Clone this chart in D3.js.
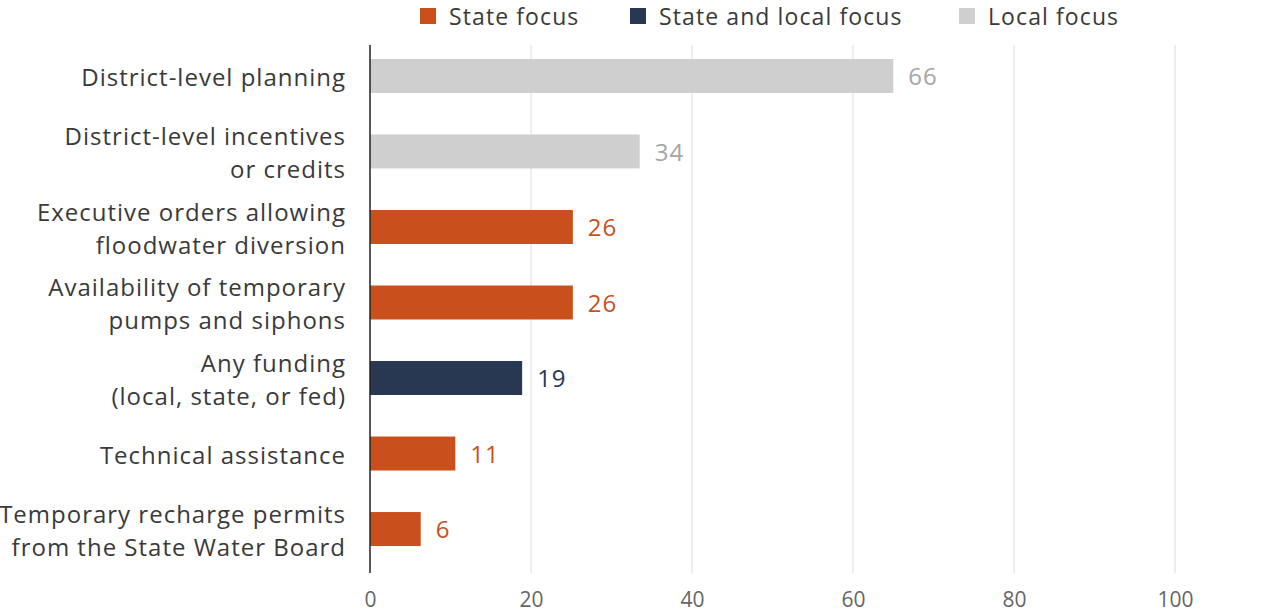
<!DOCTYPE html>
<html>
<head>
<meta charset="utf-8">
<script src="https://cdn.jsdelivr.net/npm/d3@7"></script>
<style>
  body { margin: 0; background: #fff; }
  svg { font-family: "Open Sans", Lato, sans-serif; }
</style>
</head>
<body>
<div id="chart"></div>
<script>
// data
const categories = [
  ["District-level planning"],
  ["District-level incentives", "or credits"],
  ["Executive orders allowing", "floodwater diversion"],
  ["Availability of temporary", "pumps and siphons"],
  ["Any funding", "(local, state, or fed)"],
  ["Technical assistance"],
  ["Temporary recharge permits", "from the State Water Board"]
];
const values = [65.0, 33.5, 25.2, 25.2, 18.9, 10.6, 6.3];
const valueLabels = ["66", "34", "26", "26", "19", "11", "6"];
const groups = ["Local", "Local", "State", "State", "Both", "State", "State"];
const legendKeys = ["State", "Both", "Local"];
const legendNames = ["State focus", "State and local focus", "Local focus"];
const xTicks = [0, 20, 40, 60, 80, 100];

const W = 1280, H = 616;
const margin = { top: 45, right: 105, bottom: 43, left: 370 };
const width = W - margin.left - margin.right;
const height = H - margin.top - margin.bottom;

const barColor = d3.scaleOrdinal().domain(legendKeys).range(["#c9501c", "#283852", "#cfcfcf"]);
const textColor = d3.scaleOrdinal().domain(legendKeys).range(["#c9501c", "#283852", "#a6a6a6"]);

const svg = d3.select("#chart").append("svg")
  .attr("width", W)
  .attr("height", H);

const g = svg.append("g")
  .attr("transform", `translate(${margin.left},${margin.top})`);

const x = d3.scaleLinear().domain([0, 100]).range([0, width]);
const y = d3.scaleBand()
  .domain(d3.range(categories.length))
  .range([0, 515])
  .paddingInner(0.55)
  .paddingOuter(0.185);

// gridlines
g.selectAll(".grid")
  .data(xTicks.slice(1))
  .join("line")
  .attr("x1", d => x(d)).attr("x2", d => x(d))
  .attr("y1", 0).attr("y2", height)
  .attr("stroke", "#dcdcdc")
  .attr("stroke-width", 1);

// x axis tick labels
const xAxis = d3.axisBottom(x).tickValues(xTicks).tickSize(0).tickPadding(19);
g.append("g")
  .attr("transform", `translate(0,${height})`)
  .call(xAxis)
  .call(a => a.select(".domain").remove())
  .selectAll("text")
  .attr("font-size", 21)
  .attr("font-family", "'Open Sans', sans-serif")
  .attr("fill", "#666");

// bars
g.selectAll(".bar")
  .data(values)
  .join("rect")
  .attr("x", 0)
  .attr("y", (d, i) => y(i))
  .attr("width", d => x(d))
  .attr("height", y.bandwidth())
  .attr("fill", (d, i) => barColor(groups[i]));

// value labels
g.selectAll(".val")
  .data(values)
  .join("text")
  .attr("x", d => x(d) + 15)
  .attr("y", (d, i) => y(i) + y.bandwidth() / 2)
  .attr("dy", "0.38em")
  .attr("font-size", 24)
  .attr("letter-spacing", 1)
  .attr("fill", (d, i) => textColor(groups[i]))
  .text((d, i) => valueLabels[i]);

// y axis line
g.append("line")
  .attr("x1", 0).attr("x2", 0)
  .attr("y1", 0).attr("y2", height)
  .attr("stroke", "#222")
  .attr("stroke-width", 1.5);

// category labels
const lineH = 33;
const cat = g.selectAll(".cat")
  .data(categories)
  .join("text")
  .attr("text-anchor", "end")
  .attr("font-size", 24)
  .attr("letter-spacing", 1)
  .attr("fill", "#3a3a3a")
  .attr("transform", (d, i) => `translate(-24,${y(i) + y.bandwidth() / 2 + 1})`);
cat.selectAll("tspan")
  .data(d => d.map((t, j) => ({ t, j, n: d.length })))
  .join("tspan")
  .attr("x", 0)
  .attr("y", d => (d.j - (d.n - 1) / 2) * lineH)
  .attr("dy", "0.38em")
  .text(d => d.t);

// legend
const legendX = [420, 630, 959];
const legend = svg.append("g");
legendKeys.forEach((k, i) => {
  legend.append("rect")
    .attr("x", legendX[i]).attr("y", 8)
    .attr("width", 16).attr("height", 16)
    .attr("fill", barColor(k));
  legend.append("text")
    .attr("x", legendX[i] + 29).attr("y", 17)
    .attr("dy", "0.35em")
    .attr("font-size", 23)
    .attr("letter-spacing", 1.1)
    .attr("fill", "#3a3a3a")
    .text(legendNames[i]);
});
</script>
</body>
</html>
